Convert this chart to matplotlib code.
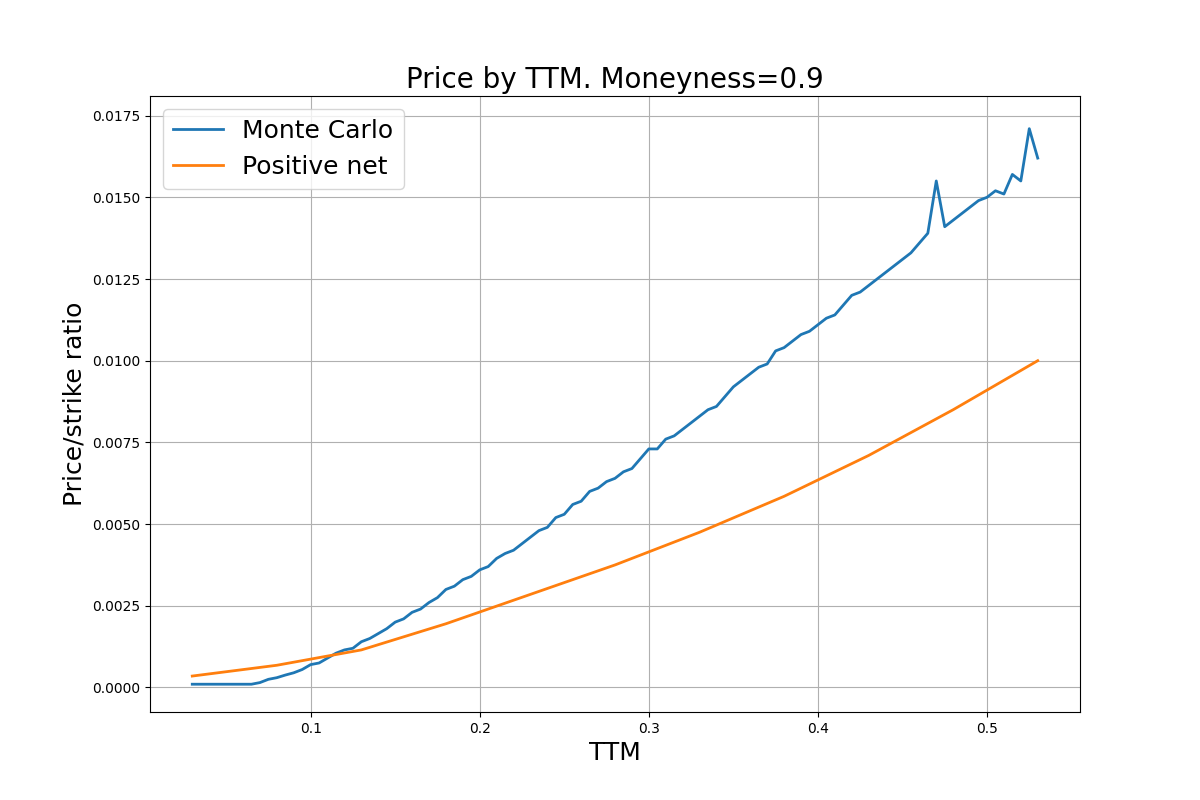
import numpy as np
from matplotlib import pyplot as plt
from matplotlib.ticker import MultipleLocator

# TTM grid for the Monte Carlo curve
ttm_mc = np.linspace(0.03, 0.53, 101)
# price/strike ratio, in units of 1e-4
mc_price = np.array([
    1, 1, 1, 1, 1, 1, 1, 1,
    1.5, 2.5, 3, 3.8, 4.5, 5.5, 7, 7.5, 9, 10.5, 11.5, 12, 14, 15, 16.5, 18,
    20, 21, 23, 24, 26, 27.5, 30, 31, 33, 34, 36, 37, 39.5, 41, 42, 44,
    46, 48, 49, 52, 53, 56, 57, 60, 61, 63, 64, 66, 67, 70, 73, 73,
    76, 77, 79, 81, 83, 85, 86, 89, 92, 94, 96, 98, 99, 103, 104, 106,
    108, 109, 111, 113, 114, 117, 120, 121, 123, 125, 127, 129, 131, 133,
    136, 139, 155, 141, 143, 145, 147, 149, 150, 152, 151, 157, 155, 171, 162,
]) * 1e-4

ttm_net = [0.03, 0.08, 0.13, 0.18, 0.23, 0.28, 0.33, 0.38, 0.43, 0.48, 0.53]
net_price = np.array([3.5, 6.8, 11.5, 19.5, 28.5, 37.5, 47.5, 58.5, 71, 85, 100]) * 1e-4

plt.figure(figsize=(12, 8), dpi=100)
plt.plot(ttm_mc, mc_price, label='Monte Carlo', linewidth=2)
plt.plot(ttm_net, net_price, label='Positive net', linewidth=2)
plt.title('Price by TTM. Moneyness=0.9', fontsize=20)
plt.xlabel('TTM', fontsize=18)
plt.ylabel('Price/strike ratio', fontsize=18)
plt.gca().yaxis.set_major_locator(MultipleLocator(0.0025))
plt.ylim(-0.00075, 0.0181)
plt.legend(fontsize=18)
plt.grid(True)
plt.savefig('out.png')
